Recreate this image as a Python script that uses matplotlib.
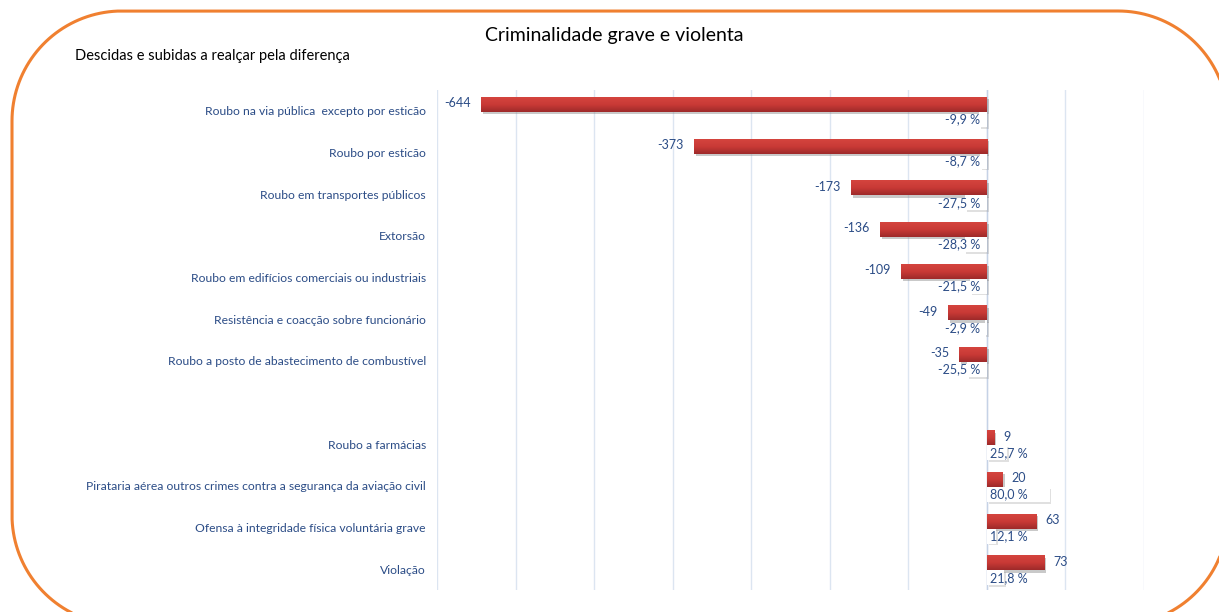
import matplotlib
matplotlib.use("Agg")
import matplotlib.pyplot as plt
import numpy as np
from matplotlib.patches import PathPatch
from matplotlib.path import Path
from matplotlib.transforms import IdentityTransform
from matplotlib.colors import LinearSegmentedColormap
import matplotlib.patheffects as pe

categories = ["Roubo na via pública  excepto por esticão", "Roubo por esticão",
              "Roubo em transportes públicos", "Extorsão",
              "Roubo em edifícios comerciais ou industriais",
              "Resistência e coacção sobre funcionário",
              "Roubo a posto de abastecimento de combustível", "",
              "Roubo a farmácias",
              "Pirataria aérea outros crimes contra a segurança da aviação civil",
              "Ofensa à integridade física voluntária grave", "Violação"]
diff = [-644, -373, -173, -136, -109, -49, -35, None, 9, 20, 63, 73]
pct = [-9.9, -8.7, -27.5, -28.3, -21.5, -2.9, -25.5, None, 25.7, 80.0, 12.1, 21.8]
title = "Criminalidade grave e violenta"
subtitle = "Descidas e subidas a realçar pela diferença"

plt.rcParams['font.family'] = ['Lato', 'DejaVu Sans']
txt_col = '#2b4c86'

fig = plt.figure(figsize=(12.19, 6.12), dpi=100)
ax = fig.add_axes([437/1219, 22/612, (1144-437)/1219, (590-90)/612])
ax.set_xlim(-700, 200)
n = len(categories)
ax.set_ylim(n - 0.5, -0.5)

ypos = np.arange(n)
h = 0.36
cmap = LinearSegmentedColormap.from_list('r', ['#d4443e', '#c93a36', '#9e2a2a'])
for i, (d, p) in enumerate(zip(diff, pct)):
    if d is None:
        continue
    yr = i - 0.15
    yw = i + 0.21
    bars = ax.barh([yr], [d], height=h, color='#c0352f', zorder=3,
                   path_effects=[pe.SimplePatchShadow(offset=(1.5, -1.5), shadow_rgbFace='#888888', alpha=0.45),
                                 pe.Normal()])
    b = bars[0]
    grad = np.linspace(0, 1, 50).reshape(-1, 1)
    im = ax.imshow(grad, cmap=cmap, aspect='auto',
                   extent=[min(0, d), max(0, d), yr + h/2, yr - h/2], zorder=4)
    im.set_clip_path(b)
    ax.barh([yw], [p], height=h, color='white', zorder=3,
            path_effects=[pe.SimplePatchShadow(offset=(1.2, -1.2), shadow_rgbFace='#999999', alpha=0.3),
                          pe.Normal()])
    if d < 0:
        ax.annotate(str(d), (d, yr), xytext=(-7.5, 1), textcoords='offset points',
                    ha='right', va='center', fontsize=9, color=txt_col, zorder=6)
        ax.annotate(f"{p:.1f} %".replace('.', ','), (0, yw), xytext=(-5, 0), textcoords='offset points',
                    ha='right', va='center', fontsize=9, color=txt_col, zorder=6)
    else:
        ax.annotate(str(d), (d, yr), xytext=(6.5, 1), textcoords='offset points',
                    ha='left', va='center', fontsize=9, color=txt_col, zorder=6)
        ax.annotate(f"{p:.1f} %".replace('.', ','), (0, yw), xytext=(2, 0), textcoords='offset points',
                    ha='left', va='center', fontsize=9, color=txt_col, zorder=6)

ax.set_yticks(ypos)
ax.set_yticklabels(categories, fontsize=8.7, color=txt_col)
ax.tick_params(axis='y', length=0, pad=8)
ax.set_xticks(np.arange(-700, 201, 100))
ax.tick_params(axis='x', length=0, labelbottom=False)
ax.grid(axis='x', color='#dce5f1', lw=1, zorder=0)
ax.axvline(0, color='#c5d2e6', lw=1, zorder=2)
for s in ax.spines.values():
    s.set_visible(False)

fig.text(614/1219, 1 - 35/612, title, ha='center', va='center', fontsize=14, color='black')
fig.text(75/1219, 1 - 56/612, subtitle, ha='left', va='center', fontsize=10.5, color='black')

# rounded frame in pixel coordinates (circular corners)
x0, x1, y0, y1, r = 12, 1228, -13, 601, 110
pts = []
def arc(cx, cy, a0, a1):
    t = np.linspace(np.radians(a0), np.radians(a1), 40)
    return list(zip(cx + r*np.cos(t), cy + r*np.sin(t)))
pts += arc(x1 - r, y1 - r, 0, 90)
pts += arc(x0 + r, y1 - r, 90, 180)
pts += arc(x0 + r, y0 + r, 180, 270)
pts += arc(x1 - r, y0 + r, 270, 360)
pts.append(pts[0])
frame = PathPatch(Path(np.array(pts)), transform=IdentityTransform(), fill=False,
                  edgecolor='#f08030', lw=2.2)
fig.add_artist(frame)

fig.savefig('out.png', dpi=100)
